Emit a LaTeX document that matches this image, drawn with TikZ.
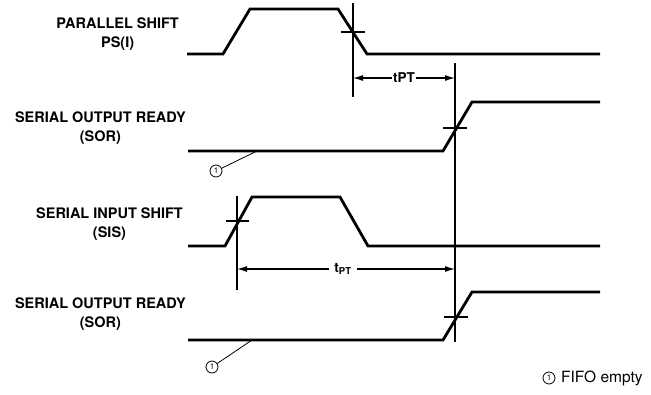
\documentclass[tikz,border=0pt]{standalone}
\usepackage{fontspec}
\setmainfont{TeX Gyre Heros}
\usetikzlibrary{arrows.meta}
\begin{document}
\begin{tikzpicture}[x=1pt, y=-1pt,
    sigName/.style={font=\bfseries\fontsize{14.5}{19}\selectfont, align=center, anchor=east, inner sep=0pt},
    sigWave/.style={line width=2.8pt, line join=miter},
    refLine/.style={line width=1.2pt},
    dimArrow/.style={line width=1.2pt, -{Latex[length=10pt,width=6pt]}},
    dimLabel/.style={font=\bfseries\fontsize{13.5}{15}\selectfont, inner sep=1pt},
    noteMark/.style={draw, circle, line width=0.8pt, minimum size=12pt, inner sep=0pt, font=\fontsize{8}{8}\selectfont},
]
\useasboundingbox (0,0) rectangle (651,394);

% Signal names
\node[sigName] (psName) at (179,34) {PARALLEL SHIFT\\PS(I)};
\node[sigName] (sorName) at (186,128) {SERIAL OUTPUT READY\\(SOR)};
\node[sigName] (sisName) at (183,224) {SERIAL INPUT SHIFT\\(SIS)};
\node[sigName] (sorNameB) at (186,314) {SERIAL OUTPUT READY\\(SOR)};

% Waveforms
\draw[sigWave] (187,54) -- (223,54) -- (250,9) -- (338,9) -- (367,54) -- (600,54);
\draw[sigWave] (188,151) -- (443,151) -- (472,102) -- (600,102);
\draw[sigWave] (188,246) -- (225,246) -- (252,197) -- (340,197) -- (368,246) -- (600,246);
\draw[sigWave] (188,340) -- (443,340) -- (472,292) -- (600,292);

% Reference lines and crossing ticks
\draw[refLine] (353,3) -- (353,97);
\draw[refLine] (455,63) -- (455,342);
\draw[refLine] (237,196) -- (237,290);
\draw[refLine] (341,32) -- (365,32);
\draw[refLine] (443,128) -- (467,128);
\draw[refLine] (226,221) -- (249,221);
\draw[refLine] (444,317) -- (468,317);

% Timing tPT
\coordinate (ptA) at (353,78);
\coordinate (ptB) at (455,78);
\node[dimLabel] (tptA) at (404,78) {tPT};
\draw[dimArrow] (tptA.west) -- (ptA);
\draw[dimArrow] (tptA.east) -- (ptB);

\coordinate (ptC) at (237,269);
\coordinate (ptD) at (455,269);
\node[dimLabel] (tptB) at (343,269) {t\textsubscript{PT}};
\draw[dimArrow] (tptB.west) ++(-4,0) -- (ptC);
\draw[dimArrow] (tptB.east) ++(4,0) -- (ptD);

% FIFO empty marks
\node[noteMark] (emptyA) at (216,171) {1};
\coordinate (waveA) at (257,151);
\draw[line width=0.8pt] (emptyA) -- (waveA);
\node[noteMark] (emptyB) at (212,367) {1};
\coordinate (waveB) at (252,340);
\draw[line width=0.8pt] (emptyB) -- (waveB);

\node[noteMark] (noteKey) at (549,378) {1};
\node[anchor=west, font=\fontsize{15.5}{17}\selectfont, inner sep=0pt] (noteText) at (561,378) {FIFO empty};
\end{tikzpicture}
\end{document}
